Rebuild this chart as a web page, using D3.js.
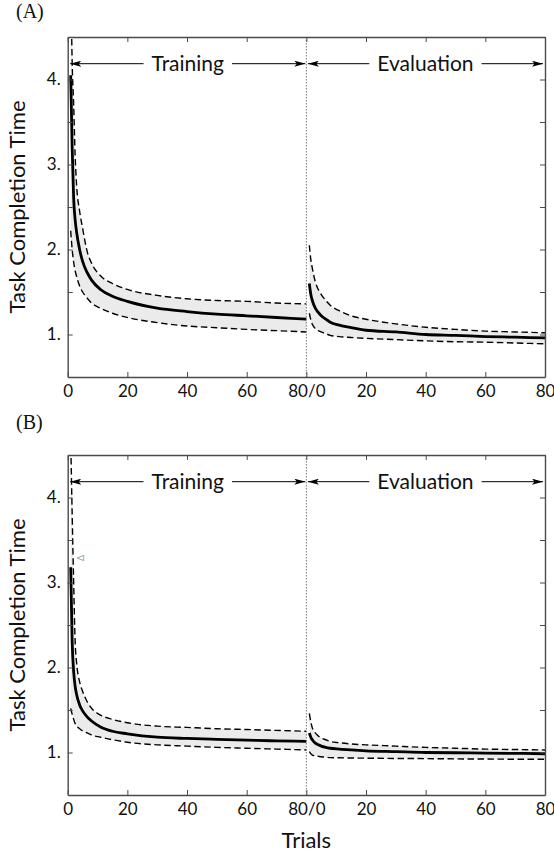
<!DOCTYPE html>
<html><head><meta charset="utf-8">
<script src="https://cdn.jsdelivr.net/npm/d3@7/dist/d3.min.js"></script>
<style>body{margin:0;background:#fff} svg{display:block}</style>
</head><body>
<svg id="c" width="554" height="853"></svg>
<script>
// ---------------- data ----------------
const trainTrials = [1, 1.5, 2, 2.5, 3, 4, 5, 6.5, 8, 11, 15, 20, 30, 40, 50, 60, 70, 80];
const evalTrials  = [1, 1.5, 2, 3, 4, 5, 6.5, 8, 11, 15, 20, 30, 40, 50, 60, 70, 80];

// Panel A
const aTrainMean  = [4.05, 3.2, 2.6, 2.35, 2.2, 2.0, 1.86, 1.73, 1.64, 1.53, 1.45, 1.39, 1.31, 1.27, 1.24, 1.22, 1.20, 1.18];
const aTrainUpper = [5.3, 4.2, 3.7, 3.1, 2.75, 2.45, 2.25, 1.98, 1.84, 1.69, 1.60, 1.53, 1.46, 1.42, 1.40, 1.39, 1.37, 1.36];
const aTrainLower = [2.22, 2.0, 1.85, 1.75, 1.68, 1.57, 1.50, 1.43, 1.37, 1.31, 1.25, 1.20, 1.14, 1.10, 1.08, 1.06, 1.045, 1.03];
const aEvalMean   = [1.60, 1.47, 1.40, 1.31, 1.26, 1.22, 1.18, 1.145, 1.11, 1.08, 1.05, 1.03, 1.00, 0.99, 0.976, 0.968, 0.96];
const aEvalUpper  = [2.05, 1.88, 1.78, 1.62, 1.53, 1.47, 1.40, 1.345, 1.28, 1.22, 1.18, 1.125, 1.085, 1.06, 1.04, 1.03, 1.02];
const aEvalLower  = [1.25, 1.17, 1.12, 1.07, 1.045, 1.03, 1.01, 0.99, 0.975, 0.965, 0.955, 0.94, 0.925, 0.915, 0.91, 0.90, 0.89];

// Panel B
const bTrainMean  = [3.18, 2.3, 1.95, 1.78, 1.68, 1.56, 1.49, 1.42, 1.37, 1.30, 1.25, 1.22, 1.18, 1.165, 1.155, 1.145, 1.137, 1.13];
const bTrainUpper = [4.7, 3.8, 3.0, 2.3, 2.05, 1.83, 1.72, 1.60, 1.52, 1.44, 1.39, 1.35, 1.31, 1.295, 1.28, 1.27, 1.26, 1.25];
const bTrainLower = [1.52, 1.45, 1.39, 1.34, 1.31, 1.28, 1.255, 1.23, 1.205, 1.18, 1.15, 1.12, 1.09, 1.075, 1.06, 1.05, 1.04, 1.03];
const bEvalMean   = [1.23, 1.18, 1.15, 1.11, 1.09, 1.075, 1.06, 1.05, 1.04, 1.03, 1.02, 1.01, 1.00, 0.997, 0.993, 0.99, 0.985];
const bEvalUpper  = [1.46, 1.36, 1.29, 1.23, 1.195, 1.17, 1.15, 1.13, 1.115, 1.10, 1.09, 1.075, 1.06, 1.05, 1.04, 1.035, 1.03];
const bEvalLower  = [1.01, 0.985, 0.97, 0.96, 0.955, 0.95, 0.945, 0.94, 0.938, 0.935, 0.933, 0.93, 0.928, 0.925, 0.923, 0.921, 0.92];

const xTickValues = [0, 20, 40, 60, 80, 100, 120, 140, 160];
const xTickLabels = ["0", "20", "40", "60", "80/0", "20", "40", "60", "80"];
const yTickValues = [1, 1.5, 2, 2.5, 3, 3.5, 4];
const yTickLabels = {1: "1.", 2: "2.", 3: "3.", 4: "4."};
const phaseLabels = ["Training", "Evaluation"];
const panelLabels = ["(A)", "(B)"];
const yTitle = "Task Completion Time";
const xTitle = "Trials";
const trainLength = 80;

// ---------------- drawing ----------------
const svg = d3.select("#c");
const FONT = "Lato, 'Open Sans', sans-serif";
const x = d3.scaleLinear().domain([0, 160]).range([67.7, 545]);
const panelTops = [37, 455];
const PH = 340;
const frameColor = "#4a4a4a";

const defs = svg.append("defs");
defs.append("marker").attr("id", "ah")
  .attr("viewBox", "0 0 11 6").attr("refX", 11).attr("refY", 3)
  .attr("markerWidth", 11).attr("markerHeight", 6)
  .attr("markerUnits", "userSpaceOnUse").attr("orient", "auto-start-reverse")
  .append("path").attr("d", "M0,0 L11,3 L0,6 L2.5,3 Z").attr("fill", "#000");

const panels = [
  {train: [aTrainMean, aTrainUpper, aTrainLower], evl: [aEvalMean, aEvalUpper, aEvalLower]},
  {train: [bTrainMean, bTrainUpper, bTrainLower], evl: [bEvalMean, bEvalUpper, bEvalLower]}
];

panels.forEach((p, i) => {
  const top = panelTops[i];
  const y = d3.scaleLinear().domain([0.5, 4.5]).range([top + PH, top]);
  const g = svg.append("g");

  defs.append("clipPath").attr("id", "clip" + i).append("rect")
    .attr("x", x(0)).attr("y", top).attr("width", x(160) - x(0)).attr("height", PH);

  const plot = g.append("g").attr("clip-path", `url(#clip${i})`);

  const segs = [
    trainTrials.map((t, k) => ({x: t, m: p.train[0][k], hi: p.train[1][k], lo: p.train[2][k]})),
    evalTrials.map((t, k) => ({x: trainLength + t, m: p.evl[0][k], hi: p.evl[1][k], lo: p.evl[2][k]}))
  ];

  const area = d3.area().x(d => x(d.x)).y0(d => y(d.lo)).y1(d => y(d.hi)).curve(d3.curveMonotoneX);
  const lineOf = key => d3.line().x(d => x(d.x)).y(d => y(d[key])).curve(d3.curveMonotoneX);

  segs.forEach(s => {
    plot.append("path").attr("d", area(s)).attr("fill", "#ebebeb");
    ["hi", "lo"].forEach(k => plot.append("path").attr("d", lineOf(k)(s))
      .attr("fill", "none").attr("stroke", "#000").attr("stroke-width", 1.4)
      .attr("stroke-dasharray", "6.5,3.5"));
    plot.append("path").attr("d", lineOf("m")(s))
      .attr("fill", "none").attr("stroke", "#000").attr("stroke-width", 2.8);
  });

  // divider
  g.append("line").attr("x1", x(trainLength)).attr("x2", x(trainLength))
    .attr("y1", top).attr("y2", top + PH)
    .attr("stroke", "#777").attr("stroke-width", 1).attr("stroke-dasharray", "1.5,1.5");

  // axes
  const styleAxis = sel => {
    sel.selectAll(".domain").attr("stroke", frameColor).attr("stroke-width", 1.4);
    sel.selectAll(".tick line").attr("stroke", frameColor).attr("stroke-width", 1);
    sel.selectAll("text").attr("font-family", FONT).attr("font-size", 17).attr("fill", "#111");
  };
  g.append("g").attr("transform", `translate(0,${top + PH})`)
    .call(d3.axisBottom(x).tickValues(xTickValues).tickFormat((d, k) => xTickLabels[k])
      .tickSizeInner(-5).tickSizeOuter(0).tickPadding(8)).call(styleAxis);
  g.append("g").attr("transform", `translate(0,${top})`)
    .call(d3.axisTop(x).tickValues(xTickValues).tickFormat("")
      .tickSizeInner(-5).tickSizeOuter(0)).call(styleAxis);
  g.append("g").attr("transform", `translate(${x(0)},0)`)
    .call(d3.axisLeft(y).tickValues(yTickValues).tickFormat(d => yTickLabels[d] || "")
      .tickSizeInner(-5).tickSizeOuter(0).tickPadding(7)).call(styleAxis);
  g.append("g").attr("transform", `translate(${x(160)},0)`)
    .call(d3.axisRight(y).tickValues(yTickValues).tickFormat("")
      .tickSizeInner(-5).tickSizeOuter(0)).call(styleAxis);

  // phase arrows
  const ay = top + 26.7;
  const phases = [[x(0) + 2.5, x(trainLength) - 1], [x(trainLength) + 1.5, x(160) - 2]];
  phases.forEach(([x1, x2], k) => {
    const cx = (x1 + x2) / 2;
    const t = g.append("text").attr("x", cx).attr("y", ay + 7)
      .attr("text-anchor", "middle").attr("font-family", FONT).attr("font-size", 21)
      .attr("fill", "#111").text(phaseLabels[k]);
    const w = t.node().getComputedTextLength();
    g.append("line").attr("x1", cx - w / 2 - 8).attr("x2", x1).attr("y1", ay).attr("y2", ay)
      .attr("stroke", "#000").attr("stroke-width", 1).attr("marker-end", "url(#ah)");
    g.append("line").attr("x1", cx + w / 2 + 8).attr("x2", x2).attr("y1", ay).attr("y2", ay)
      .attr("stroke", "#000").attr("stroke-width", 1).attr("marker-end", "url(#ah)");
  });

  // y title
  g.append("text").attr("transform", `translate(25,${top + PH / 2}) rotate(-90)`)
    .attr("text-anchor", "middle").attr("font-family", FONT).attr("font-size", 22)
    .attr("fill", "#111").text(yTitle);

  // panel label
  g.append("text").attr("x", 16).attr("y", top - (i === 0 ? 19 : 26))
    .attr("font-family", "'Liberation Serif', 'Times New Roman', serif").attr("font-size", 20)
    .attr("fill", "#111").text(panelLabels[i]);
});

// stray glyph in panel B
svg.append("text").attr("transform", "translate(84,558) rotate(-90)")
  .attr("text-anchor", "middle").attr("font-family", FONT).attr("font-size", 9)
  .attr("fill", "#999").text("Δ");

// x title
svg.append("text").attr("x", x(trainLength)).attr("y", 848)
  .attr("text-anchor", "middle").attr("font-family", FONT).attr("font-size", 22)
  .attr("fill", "#111").text(xTitle);
</script>
</body></html>
